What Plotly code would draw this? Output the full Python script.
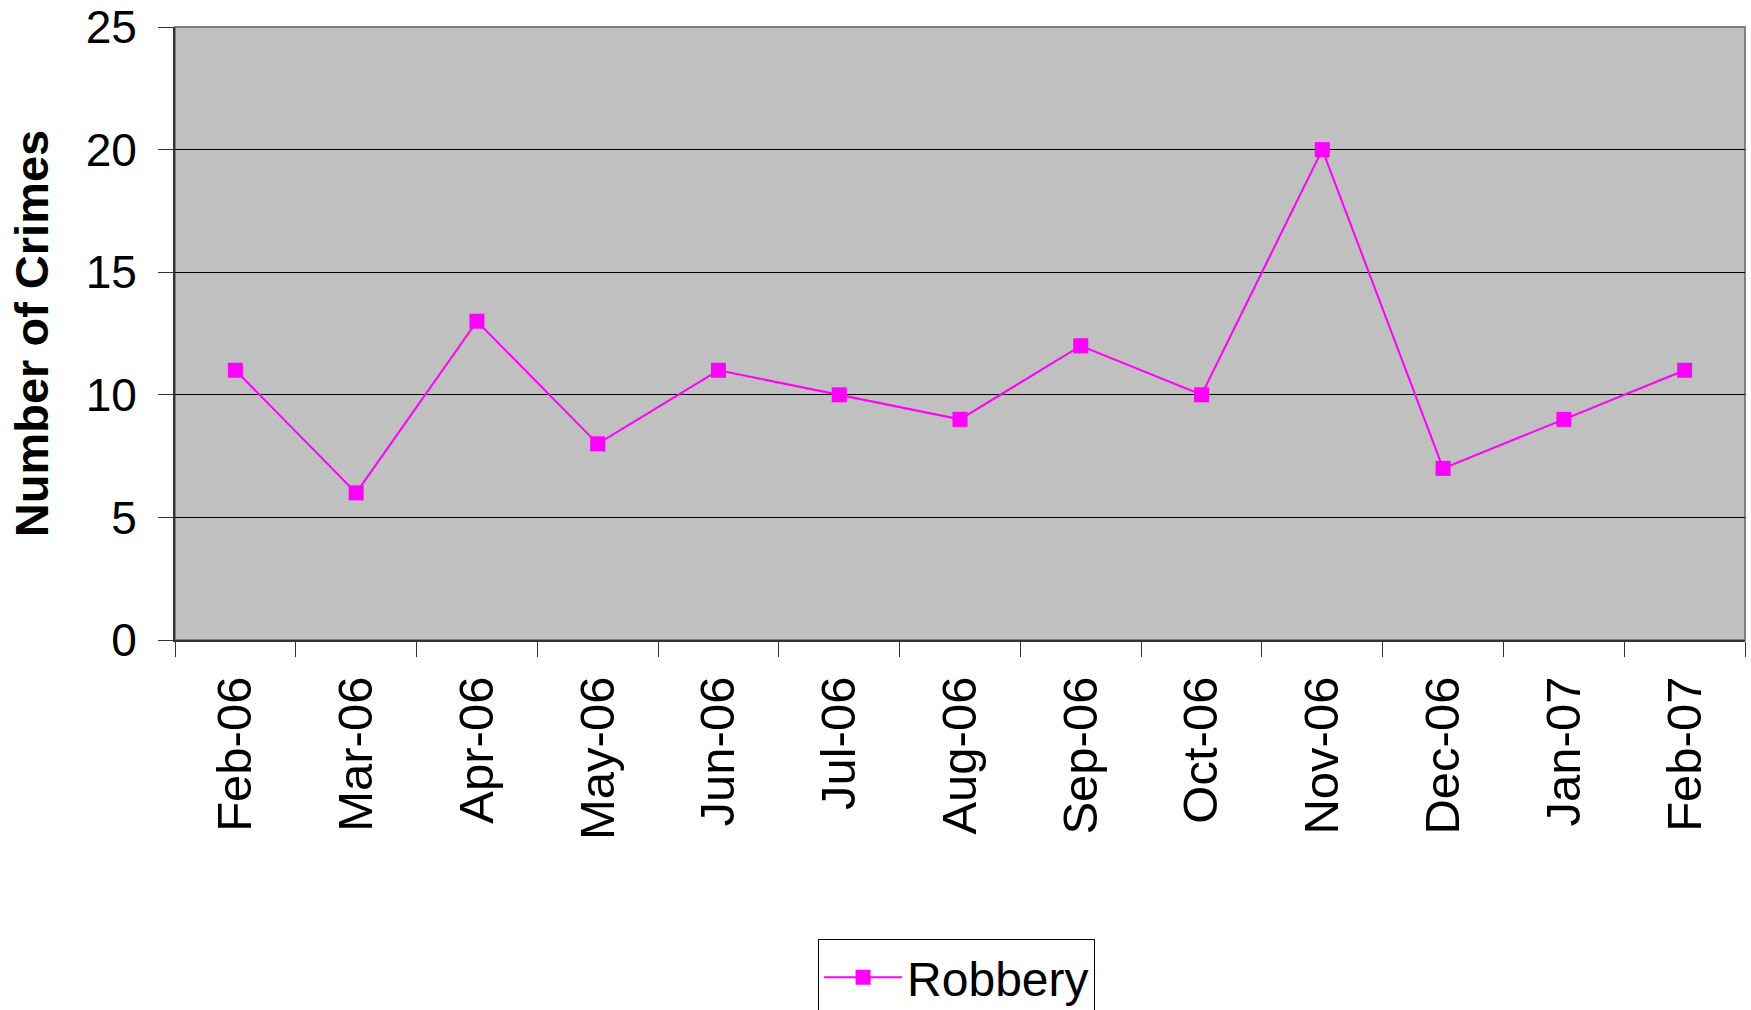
import plotly.graph_objects as go

months = ["Feb-06", "Mar-06", "Apr-06", "May-06", "Jun-06", "Jul-06", "Aug-06",
          "Sep-06", "Oct-06", "Nov-06", "Dec-06", "Jan-07", "Feb-07"]
robbery = [11, 6, 13, 8, 11, 10, 9, 12, 10, 20, 7, 9, 11]
y_ticks = [0, 5, 10, 15, 20, 25]

FONT = "Liberation Sans, Arial, sans-serif"

fig = go.Figure()
fig.add_trace(go.Scatter(
    x=months, y=robbery, name="Robbery", mode="lines+markers",
    line=dict(color="#FF00FF", width=2),
    marker=dict(symbol="square", size=15, color="#FF00FF"),
))

fig.update_layout(
    width=1751, height=1010,
    margin=dict(l=175, r=6, t=27, b=370, autoexpand=False),
    paper_bgcolor="white", plot_bgcolor="#C0C0C0",
    font=dict(family=FONT, size=48, color="black"),
    showlegend=True,
    legend=dict(
        x=0.4096, y=-0.487, xanchor="left", yanchor="top",
        bordercolor="black", borderwidth=1, bgcolor="white",
        font=dict(size=48), itemwidth=78,
    ),
    shapes=[dict(type="rect", xref="paper", yref="paper", x0=0, x1=1, y0=0, y1=1,
                 line=dict(color="#808080", width=2), layer="below")],
)

fig.update_xaxes(
    type="category", range=[-0.5, 12.5],
    showgrid=False, showline=True, linecolor="#333333", linewidth=2,
    ticks="outside", tickson="boundaries", ticklen=15, tickcolor="#333333", tickwidth=1,
    tickangle=-90, tickfont=dict(size=49), ticklabelstandoff=15,
)
fig.update_yaxes(
    range=[0, 25], tickvals=y_ticks,
    showgrid=True, gridcolor="black", gridwidth=1,
    showline=True, linecolor="#333333", linewidth=2, zeroline=False,
    ticks="outside", ticklen=15, tickcolor="#333333", tickwidth=1,
    tickfont=dict(size=46), ticklabelstandoff=12,
    title=dict(text="<b>Number of Crimes</b>", font=dict(size=47), standoff=22),
)

fig.write_html("out.html", config={"displayModeBar": False},
               post_script="document.body.style.margin='0';")
